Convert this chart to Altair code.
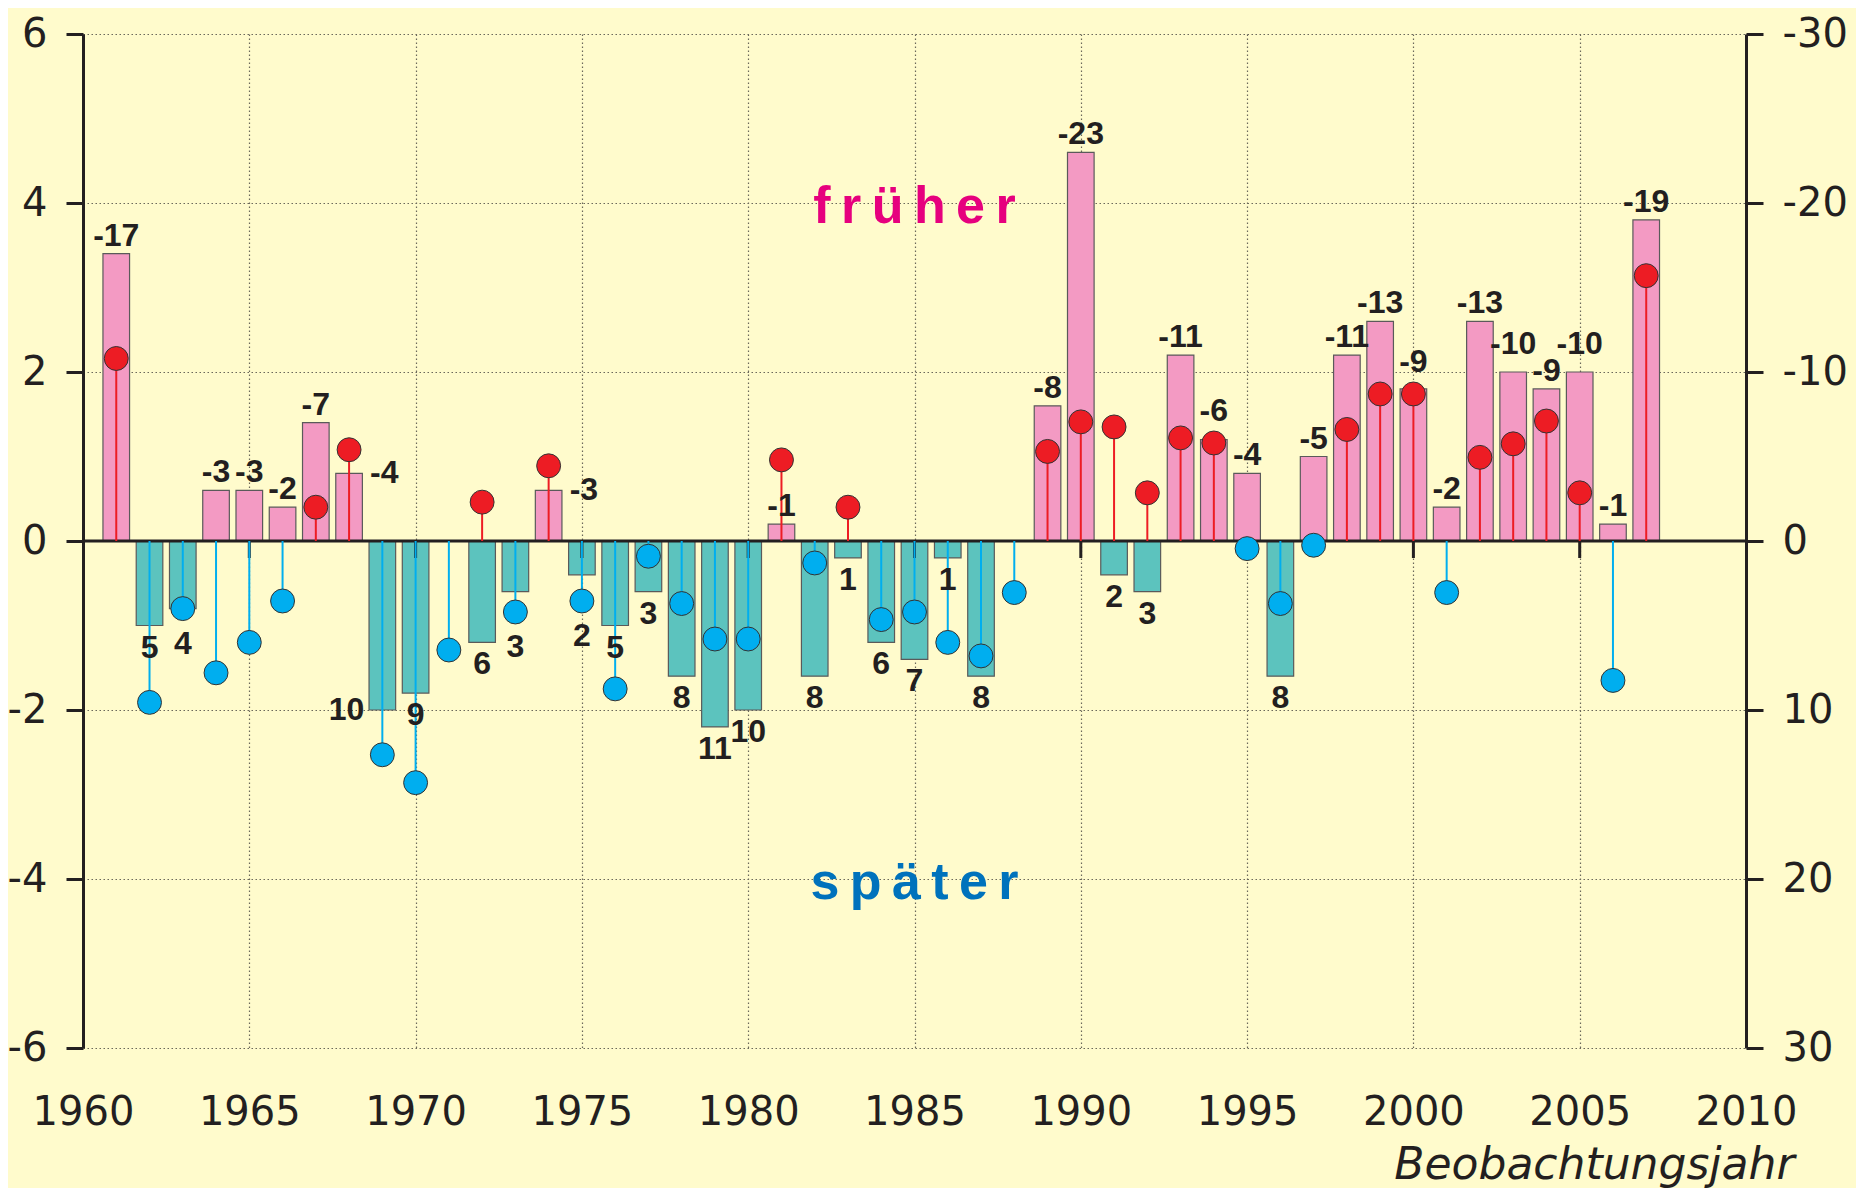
import altair as alt
import pandas as pd

# ---------------- data ----------------
years = list(range(1961, 2008))
# bar values: deviation in days (right axis, label shown on each bar)
days = [-17, 5, 4, -3, -3, -2, -7, -4, 10, 9,
        0, 6, 3, -3, 2, 5, 3, 8, 11, 10,
        -1, 8, 1, 6, 7, 1, 8, 0, -8, -23,
        2, 3, -11, -6, -4, 8, -5, -11, -13, -9,
        -2, -13, -10, -9, -10, -1, -19]
# lollipop values (left axis)
dots = [2.16, -1.91, -0.80, -1.56, -1.20, -0.71, 0.40, 1.08, -2.53, -2.86,
        -1.29, 0.46, -0.84, 0.89, -0.71, -1.75, -0.18, -0.74, -1.16, -1.16,
        0.96, -0.26, 0.40, -0.93, -0.84, -1.20, -1.36, -0.61, 1.06, 1.41,
        1.35, 0.57, 1.22, 1.16, -0.09, -0.74, -0.05, 1.32, 1.74, 1.74,
        -0.61, 0.99, 1.15, 1.42, 0.57, -1.65, 3.14]
x_ticks = [1960, 1965, 1970, 1975, 1980, 1985, 1990, 1995, 2000, 2005, 2010]
left_ticks = [-6, -4, -2, 0, 2, 4, 6]
right_ticks = [-30, -20, -10, 0, 10, 20, 30]
annot_text = ["f\u2009r\u2009ü\u2009h\u2009e\u2009r", "s\u2009p\u2009ä\u2009t\u2009e\u2009r"]

# ---------------- layout / style ----------------
W, H = 1663, 1014
PAD_TOP = 26
LEFT_DOM = [-6, 6]
RIGHT_DOM = [30, -30]
DOT_R = 13.5
label_side = {1968: "right", 1974: "right", 1969: "left"}
label_raise = {2003: 10, 2005: 10}
annot_pos = {"x": [1985, 1985], "y": [4, -4]}

BG = "#FFFBCC"
INK = "#231F20"
PINK = "#F39AC3"
TEAL = "#5CC3BE"
RED = "#ED1C24"
BLUE = "#00AEEF"
MAGENTA = "#E6007E"
DBLUE = "#0072BC"
GRID = "#6b685a"
AX_FONT = "DejaVu Sans"
LB_FONT = "Liberation Sans"

unit = H / (LEFT_DOM[1] - LEFT_DOM[0])
r_u = DOT_R / unit

rows = []
for yr, d, p in zip(years, days, dots):
    b = -d / 5.0
    if d == 0:
        place, anchor = "none", 0.0
    elif yr in label_side:
        place, anchor = label_side[yr], b
    elif d < 0:
        place = "above"
        anchor = p + r_u if (b - r_u < p < b + 0.5) else b
        anchor += label_raise.get(yr, 0) / unit
    else:
        place = "below"
        anchor = p - r_u if (b - 0.45 < p < b + r_u) else b
    rows.append(dict(year=yr, days=d, dot=p, label=str(d) if d else "",
                     place=place, anchor=anchor))
df = pd.DataFrame(rows)

XS = alt.Scale(domain=[x_ticks[0], x_ticks[-1]], nice=False, zero=False)
LS = alt.Scale(domain=LEFT_DOM, nice=False, zero=False)
RS = alt.Scale(domain=RIGHT_DOM, nice=False, zero=False)

x_axis = alt.Axis(values=x_ticks, labelExpr="'' + datum.value", grid=True,
                  gridColor=GRID, gridDash=[1.5, 2.5], gridWidth=1.2,
                  ticks=False, tickSize=0, domain=False,
                  labelFont=AX_FONT, labelFontSize=40, labelColor=INK,
                  labelPadding=44, labelFlush=False,
                  title="Beobachtungsjahr", titleFont=AX_FONT, titleFontSize=44,
                  titleFontStyle="italic", titleFontWeight="normal", titleColor=INK,
                  titleAlign="right", titleBaseline="alphabetic",
                  titleX=1711, titleY=130)
left_axis = alt.Axis(orient="left", values=left_ticks, labelExpr="'' + datum.value",
                     grid=True, gridColor=GRID, gridDash=[1.5, 2.5], gridWidth=1.2,
                     domain=True, domainColor=INK, domainWidth=3,
                     ticks=True, tickColor=INK, tickWidth=3, tickSize=17,
                     labelFont=AX_FONT, labelFontSize=40, labelColor=INK,
                     labelPadding=19, labelFlush=False, title=None)
right_axis = alt.Axis(orient="right", values=right_ticks, labelExpr="'' + datum.value",
                      grid=False, domain=True, domainColor=INK, domainWidth=3,
                      ticks=True, tickColor=INK, tickWidth=3, tickSize=17,
                      labelFont=AX_FONT, labelFontSize=40, labelColor=INK,
                      labelPadding=19, labelFlush=False, title=None)

base = alt.Chart(df)

bars = base.transform_filter("datum.days != 0").transform_calculate(
    x0="datum.year - 0.4", x1="datum.year + 0.4", z="0"
).mark_bar(stroke="#5a5a5a", strokeWidth=1.2).encode(
    x=alt.X("x0:Q", scale=XS, axis=x_axis),
    x2="x1:Q",
    y=alt.Y("days:Q", scale=RS, axis=right_axis),
    y2="z:Q",
    color=alt.condition("datum.days < 0", alt.value(PINK), alt.value(TEAL)),
)

zero_df = pd.DataFrame({"x0": [x_ticks[0]], "x1": [x_ticks[-1]], "y": [0]})
zero = alt.Chart(zero_df).mark_rule(color=INK, strokeWidth=3).encode(
    x=alt.X("x0:Q", scale=XS, axis=x_axis), x2="x1:Q",
    y=alt.Y("y:Q", scale=LS, axis=None),
)

tick_df = pd.DataFrame({"year": x_ticks[1:-1]})
xticks = alt.Chart(tick_df).transform_calculate(z="0").mark_rule(
    color=INK, strokeWidth=3, y2Offset=17
).encode(
    x=alt.X("year:Q", scale=XS, axis=x_axis),
    y=alt.Y("z:Q", scale=LS, axis=None), y2="z:Q",
)

stems = base.transform_calculate(z="0").mark_rule(strokeWidth=2).encode(
    x=alt.X("year:Q", scale=XS, axis=x_axis),
    y=alt.Y("z:Q", scale=LS, axis=None), y2="dot:Q",
    color=alt.condition("datum.dot >= 0", alt.value(RED), alt.value(BLUE)),
)

points = base.mark_circle(size=3.14159 * DOT_R ** 2, opacity=1,
                          stroke="#333333", strokeWidth=1).encode(
    x=alt.X("year:Q", scale=XS, axis=x_axis),
    y=alt.Y("dot:Q", scale=LS, axis=left_axis),
    color=alt.condition("datum.dot >= 0", alt.value(RED), alt.value(BLUE)),
)


def label_layer(place, **kw):
    return base.transform_filter(f"datum.place == '{place}'").mark_text(
        font=LB_FONT, fontSize=32, fontWeight="bold", color=INK,
        baseline="middle", **kw
    ).encode(
        x=alt.X("year:Q", scale=XS, axis=x_axis),
        y=alt.Y("anchor:Q", scale=LS, axis=None),
        text="label:N",
    )


lab_above = label_layer("above", align="center", dy=-18)
lab_below = label_layer("below", align="center", dy=22)
lab_right = label_layer("right", align="left", dx=21)
lab_left = label_layer("left", align="right", dx=-18)

annot_df = pd.DataFrame({"text": annot_text, "x": annot_pos["x"], "y": annot_pos["y"],
                         "c": [MAGENTA, DBLUE]})
annot = alt.Chart(annot_df).mark_text(
    font=LB_FONT, fontSize=52, fontWeight="bold", align="center",
    baseline="middle", dy=4
).encode(
    x=alt.X("x:Q", scale=XS, axis=x_axis),
    y=alt.Y("y:Q", scale=LS, axis=None),
    text="text:N",
    color=alt.Color("c:N", scale=None, legend=None),
)

chart = alt.layer(
    bars, zero, xticks, stems, points,
    lab_above, lab_below, lab_right, lab_left, annot
).resolve_scale(y="independent").properties(
    width=W, height=H,
    autosize=alt.AutoSizeParams(type="none"),
    padding={"left": 75, "top": PAD_TOP, "right": 110, "bottom": 1180 - PAD_TOP - H},
    background=BG,
).configure_view(stroke=None)

chart.save("out.html", embed_options={"renderer": "svg", "actions": False})
